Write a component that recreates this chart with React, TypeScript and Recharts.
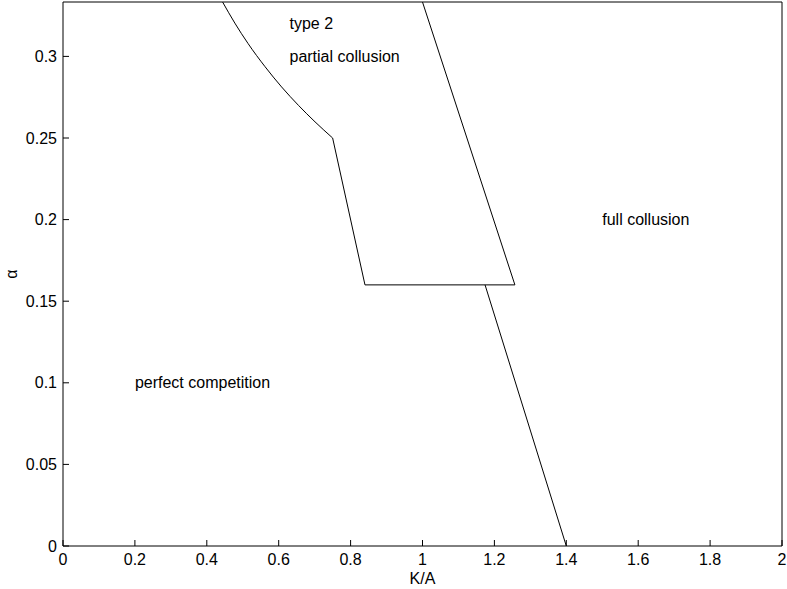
import React from "react";
import {
  LineChart,
  Line,
  XAxis,
  YAxis,
  ReferenceDot,
} from "recharts";

// region boundaries (K/A, alpha)
const curvedBoundary = [
  { x: 0.444, y: 0.3333 },
  { x: 0.478, y: 0.3204 },
  { x: 0.515, y: 0.3078 },
  { x: 0.562, y: 0.2937 },
  { x: 0.608, y: 0.2813 },
  { x: 0.655, y: 0.27 },
  { x: 0.701, y: 0.2599 },
  { x: 0.75, y: 0.25 },
];

const straightBoundary = [
  { x: 0.75, y: 0.25 },
  { x: 0.84, y: 0.16 },
  { x: 1.257, y: 0.16 },
  { x: 1.0, y: 0.3333 },
];

const lowerBoundary = [
  { x: 1.174, y: 0.16 },
  { x: 1.4, y: 0 },
];

const regionLabels = [
  { x: 0.63, y: 0.32, text: "type 2" },
  { x: 0.63, y: 0.3, text: "partial collusion" },
  { x: 0.2, y: 0.1, text: "perfect competition" },
  { x: 1.5, y: 0.2, text: "full collusion" },
];

const xTicks = [0, 0.2, 0.4, 0.6, 0.8, 1, 1.2, 1.4, 1.6, 1.8, 2];
const yTicks = [0, 0.05, 0.1, 0.15, 0.2, 0.25, 0.3];

const FONT = "'Liberation Sans', Arial, Helvetica, sans-serif";
const FS = 16;
const TICK = 6;

const BottomTick = (p: any) => (
  <g>
    <line x1={p.x} y1={p.y} x2={p.x} y2={p.y - TICK} stroke="#000" />
    <text x={p.x} y={p.y + 19} textAnchor="middle" fontSize={FS} fontFamily={FONT} fill="#000">
      {p.payload.value}
    </text>
  </g>
);

const TopTick = (p: any) => (
  <line x1={p.x} y1={p.y} x2={p.x} y2={p.y + TICK} stroke="#000" />
);

const LeftTick = (p: any) => (
  <g>
    <line x1={p.x} y1={p.y} x2={p.x + TICK} y2={p.y} stroke="#000" />
    <text x={p.x - 6} y={p.y + 5.5} textAnchor="end" fontSize={FS} fontFamily={FONT} fill="#000">
      {p.payload.value}
    </text>
  </g>
);

const RightTick = (p: any) => (
  <line x1={p.x} y1={p.y} x2={p.x - TICK} y2={p.y} stroke="#000" />
);

const xLabel = (props: any) => {
  const vb = props.viewBox;
  return (
    <text
      x={vb.x + vb.width / 2}
      y={vb.y + vb.height + 13}
      textAnchor="middle"
      fontSize={FS}
      fontFamily={FONT}
      fill="#000"
    >
      K/A
    </text>
  );
};

const yLabel = (props: any) => {
  const vb = props.viewBox;
  const cx = vb.x - 6;
  const cy = vb.y + vb.height / 2;
  return (
    <text
      x={cx}
      y={cy}
      transform={`rotate(-90 ${cx} ${cy})`}
      textAnchor="middle"
      fontSize={FS}
      fontFamily={FONT}
      fill="#000"
    >
      α
    </text>
  );
};

export default function App() {
  return (
    <div style={{ position: "absolute", left: 0, top: 0, background: "#fff" }}>
      <LineChart
        width={787}
        height={589}
        margin={{ top: 1, right: 4, bottom: 18, left: 23 }}
      >
        <XAxis
          xAxisId={0}
          dataKey="x"
          type="number"
          domain={[0, 2]}
          ticks={xTicks}
          interval={0}
          height={25}
          tickSize={0}
          tickMargin={0}
          tickLine={false}
          axisLine={{ stroke: "#000" }}
          tick={BottomTick}
          label={xLabel}
        />
        <XAxis
          xAxisId="top"
          orientation="top"
          type="number"
          domain={[0, 2]}
          ticks={xTicks}
          interval={0}
          height={1}
          tickSize={0}
          tickMargin={0}
          tickLine={false}
          axisLine={{ stroke: "#000" }}
          tick={TopTick}
        />
        <YAxis
          yAxisId={0}
          type="number"
          domain={[0, 1 / 3]}
          ticks={yTicks}
          interval={0}
          width={40}
          tickSize={0}
          tickMargin={0}
          tickLine={false}
          axisLine={{ stroke: "#000" }}
          tick={LeftTick}
          label={yLabel}
        />
        <YAxis
          yAxisId="right"
          orientation="right"
          type="number"
          domain={[0, 1 / 3]}
          ticks={yTicks}
          interval={0}
          width={1}
          tickSize={0}
          tickMargin={0}
          tickLine={false}
          axisLine={{ stroke: "#000" }}
          tick={RightTick}
        />
        <Line
          data={curvedBoundary}
          dataKey="y"
          type="monotoneX"
          stroke="#000"
          strokeWidth={1}
          dot={false}
          activeDot={false}
          isAnimationActive={false}
        />
        <Line
          data={straightBoundary}
          dataKey="y"
          type="linear"
          stroke="#000"
          strokeWidth={1}
          dot={false}
          activeDot={false}
          isAnimationActive={false}
        />
        <Line
          data={lowerBoundary}
          dataKey="y"
          type="linear"
          stroke="#000"
          strokeWidth={1}
          dot={false}
          activeDot={false}
          isAnimationActive={false}
        />
        {regionLabels.map((r) => (
          <ReferenceDot
            key={r.text}
            x={r.x}
            y={r.y}
            r={0}
            fill="none"
            stroke="none"
            label={{
              value: r.text,
              position: "right",
              offset: 0,
              fontSize: FS,
              fontFamily: FONT,
              fill: "#000",
            }}
          />
        ))}
      </LineChart>
    </div>
  );
}
